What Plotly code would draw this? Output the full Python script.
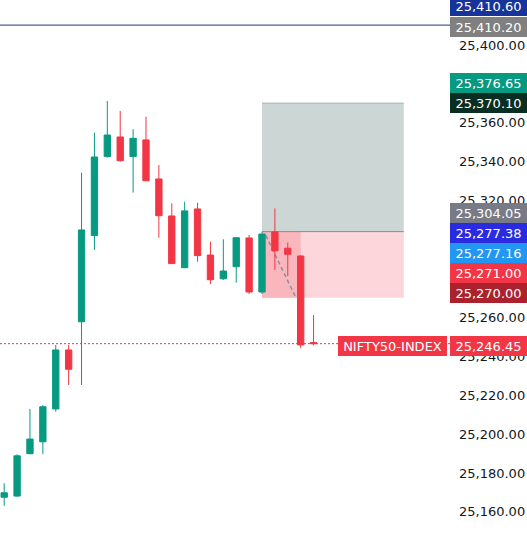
import plotly.graph_objects as go

# ---- candle data (bar index, OHLC) ----
bar_index = list(range(25))
opens  = [25167.5, 25168.1, 25189.9, 25196.0, 25212.9, 25243.2, 25257.7, 25302.0, 25342.6, 25352.7,
          25342.6, 25351.2, 25331.1, 25312.1, 25285.5, 25315.7, 25292.0, 25279.8, 25286.0, 25300.8,
          25273.0, 25303.9, 25295.5, 25291.5, 25247.0]
highs  = [25174.7, 25189.6, 25212.9, 25214.9, 25245.8, 25245.8, 25334.3, 25354.9, 25371.2, 25366.1,
          25356.7, 25363.1, 25338.3, 25318.6, 25319.4, 25318.9, 25298.9, 25300.1, 25301.2, 25302.3,
          25304.0, 25316.0, 25298.4, 25292.0, 25261.2]
lows   = [25163.1, 25167.8, 25189.6, 25189.7, 25211.5, 25225.2, 25225.2, 25294.6, 25342.1, 25340.0,
          25324.1, 25330.0, 25300.9, 25287.4, 25285.3, 25288.6, 25277.1, 25279.2, 25277.8, 25272.0,
          25272.0, 25284.3, 25281.2, 25244.1, 25245.5]
closes = [25169.8, 25188.8, 25197.4, 25214.0, 25243.2, 25233.3, 25304.9, 25342.4, 25353.7, 25340.5,
          25352.0, 25330.2, 25312.2, 25287.6, 25314.7, 25291.7, 25279.3, 25283.8, 25300.9, 25273.0,
          25302.8, 25294.2, 25292.4, 25245.8, 25246.45]

# ---- position tool (long/short) levels ----
entry_price = 25304.05
target_price = 25370.10
stop_price = 25270.00
zone_start_bar = 20
zone_end_bar = 31
zone_filled_bar = 23
path_start = (20.3, 25302.0)
path_end = (22.6, 25270.5)

# ---- horizontal levels ----
top_line_price = 25410.20
last_price = 25246.45
symbol_name = "NIFTY50-INDEX"

# ---- right-side price labels ----
label_prices = [25410.60, 25410.20, 25376.65, 25370.10, 25304.05, 25277.38, 25277.16, 25271.00, 25270.00, 25246.45]
label_colors = ["#16349a", "#808080", "#089981", "#0b2e22", "#787b86", "#2a2ae0", "#2196f3", "#f23645", "#ab212c", "#f23645"]
label_shift = [18, -1.5, 7.7, 0, 18.6, 50.5, 30.9, 22.9, 4.9, -2]

# axis tick labels visible in the reference (others are hidden beneath price labels)
tick_vals = [25160, 25180, 25200, 25220, 25240, 25260, 25320, 25340, 25360, 25400]

UP, DOWN = "#089981", "#f23645"
FONT = "DejaVu Sans"

fig = go.Figure()
fig.add_trace(go.Candlestick(
    x=bar_index, open=opens, high=highs, low=lows, close=closes,
    increasing=dict(line=dict(color=UP, width=1), fillcolor=UP),
    decreasing=dict(line=dict(color=DOWN, width=1), fillcolor=DOWN),
    whiskerwidth=0, hoverinfo="skip", showlegend=False,
))

shapes = []
# target zone (gray)
shapes.append(dict(type="rect", xref="x", yref="y", x0=zone_start_bar, x1=zone_end_bar,
                   y0=entry_price, y1=target_price, fillcolor="#ccd6d5",
                   line=dict(width=0), layer="below"))
shapes.append(dict(type="line", xref="x", yref="y", x0=zone_start_bar, x1=zone_end_bar,
                   y0=target_price, y1=target_price, line=dict(color="#aab3b2", width=1), layer="below"))
# stop zone (red)
shapes.append(dict(type="rect", xref="x", yref="y", x0=zone_start_bar, x1=zone_end_bar,
                   y0=stop_price, y1=entry_price, fillcolor="#fcd6da",
                   line=dict(width=0), layer="below"))
shapes.append(dict(type="rect", xref="x", yref="y", x0=zone_start_bar, x1=zone_filled_bar,
                   y0=stop_price, y1=entry_price, fillcolor="#f9b6bc",
                   line=dict(width=0), layer="below"))
shapes.append(dict(type="line", xref="x", yref="y", x0=zone_start_bar, x1=zone_end_bar,
                   y0=entry_price, y1=entry_price, line=dict(color="#8a8d94", width=1), layer="below"))
shapes.append(dict(type="line", xref="x", yref="y", x0=path_start[0], x1=path_end[0],
                   y0=path_start[1], y1=path_end[1], line=dict(color="#8c8f99", width=1.5, dash="4px,3px"), layer="below"))
# navy horizontal line
shapes.append(dict(type="line", xref="paper", yref="y", x0=0, x1=1, y0=top_line_price, y1=top_line_price,
                   line=dict(color="#1e3a78", width=1), layer="below"))
# last price dotted line
shapes.append(dict(type="line", xref="paper", yref="y", x0=0, x1=1, y0=last_price, y1=last_price,
                   line=dict(color=DOWN, width=1, dash="2px,2px"), layer="below"))

annotations = []
for p, c, s in zip(label_prices, label_colors, label_shift):
    annotations.append(dict(
        xref="paper", yref="y", x=1, y=p, xanchor="left", yanchor="middle", xshift=-2, yshift=s,
        text=f"{p:,.2f}", showarrow=False, bgcolor=c, width=77, height=20, align="center",
        borderpad=0, borderwidth=0, font=dict(family=FONT, size=13, color="white"),
    ))
annotations.append(dict(
    xref="paper", yref="y", x=1, y=last_price, xanchor="right", yanchor="middle", xshift=-5, yshift=-2,
    text=symbol_name, showarrow=False, bgcolor=DOWN, width=109, height=20, align="center",
    borderpad=0, borderwidth=0, font=dict(family=FONT, size=13, color="white"),
))

fig.update_layout(
    width=527, height=542,
    margin=dict(l=0, r=75, t=0, b=0),
    paper_bgcolor="white", plot_bgcolor="white",
    showlegend=False,
    shapes=shapes, annotations=annotations,
    xaxis=dict(range=[-0.326, 34.74], visible=False, rangeslider=dict(visible=False), fixedrange=True),
    yaxis=dict(range=[25144.5, 25423.1], side="right", tickvals=tick_vals, tickformat=",.2f",
               showgrid=False, zeroline=False, showline=False, ticks="", ticklabelstandoff=6,
               tickfont=dict(family=FONT, size=13, color="#131722"), fixedrange=True),
)

fig.write_html("out.html")
